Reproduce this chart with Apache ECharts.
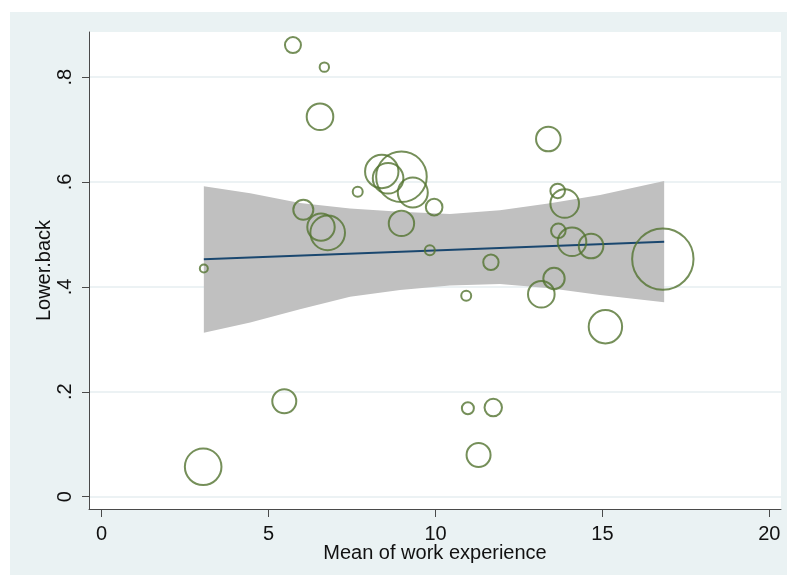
<!DOCTYPE html>
<html>
<head>
<meta charset="utf-8">
<script src="https://cdn.jsdelivr.net/npm/echarts@6/dist/echarts.min.js"></script>
<style>
  html, body { margin: 0; padding: 0; background: #ffffff; }
  #chart { width: 789px; height: 576px; }
</style>
</head>
<body>
<div id="chart"></div>
<script>
// Mean work experience (years) per study, share with lower-back complaints, study weight
const expX = [3.04, 3.06, 5.47, 5.73, 6.04, 6.54, 6.57, 6.67, 6.77, 7.67, 8.39, 8.58, 8.98, 8.98, 9.32, 9.83,
              9.96, 10.92, 10.97, 11.29, 11.66, 11.73, 13.17, 13.38, 13.55, 13.66, 13.68, 13.87, 14.09, 14.66, 15.09, 16.81];
const lowerBack = [0.057, 0.435, 0.182, 0.861, 0.547, 0.7245, 0.514, 0.819, 0.503, 0.5815, 0.620, 0.607, 0.610, 0.521, 0.580, 0.470,
                   0.552, 0.383, 0.1685, 0.0795, 0.447, 0.170, 0.386, 0.682, 0.416, 0.583, 0.507, 0.559, 0.486, 0.478, 0.324, 0.453];
const weight = [335, 16, 144, 64, 100, 177, 188, 22, 300, 25, 279, 234, 640, 161, 225, 25,
                69, 25, 36, 144, 59, 76, 177, 151, 114, 53, 53, 204, 204, 151, 279, 942];

// Linear fit and its 95% confidence band
const fitX = [3.06, 16.85];
const fitY = [0.4526, 0.486];
const ciX = [3.06, 4.45, 5.94, 7.44, 8.94, 10.43, 11.93, 13.43, 14.93, 16.85];
const ciUpper = [0.592, 0.5785, 0.560, 0.5497, 0.5434, 0.539, 0.5459, 0.5594, 0.575, 0.602];
const ciLower = [0.3127, 0.3319, 0.3575, 0.3813, 0.394, 0.4027, 0.4055, 0.3973, 0.3846, 0.3706];

// Axis ticks and labels
const xTicks = [0, 5, 10, 15, 20];
const xTickLabels = ['0', '5', '10', '15', '20'];
const yTicks = [0, 0.2, 0.4, 0.6, 0.8];
const yTickLabels = ['0', '.2', '.4', '.6', '.8'];

const FONT = '"Liberation Sans", Arial, Helvetica, sans-serif';
const AXIS_COLOR = '#4a4a4a';
const TEXT_COLOR = '#111111';

function labelFor(ticks, labels) {
  return function (v) {
    for (let i = 0; i < ticks.length; i++) {
      if (Math.abs(ticks[i] - v) < 1e-9) return labels[i];
    }
    return '';
  };
}

const chart = echarts.init(document.getElementById('chart'), null, { renderer: 'canvas' });

const option = {
  animation: false,
  backgroundColor: '#ffffff',
  graphic: [{
    type: 'rect',
    z: -100,
    silent: true,
    shape: { x: 10, y: 12, width: 777, height: 563 },
    style: { fill: '#eaf2f3' }
  }],
  grid: {
    left: 89, right: 8, top: 32, bottom: 67,
    show: true, backgroundColor: '#ffffff', borderWidth: 0
  },
  xAxis: {
    type: 'value',
    min: -0.38, max: 20.35,
    axisLine: { show: true, onZero: false, lineStyle: { color: AXIS_COLOR, width: 1 } },
    axisTick: { show: true, length: 8, customValues: xTicks, lineStyle: { color: AXIS_COLOR, width: 1 } },
    axisLabel: {
      customValues: xTicks, margin: 15, fontSize: 20, color: TEXT_COLOR, fontFamily: FONT,
      formatter: labelFor(xTicks, xTickLabels)
    },
    splitLine: { show: false },
    name: 'Mean of work experience',
    nameLocation: 'middle', nameGap: 34, nameMoveOverlap: false,
    nameTextStyle: { fontSize: 20, color: TEXT_COLOR, fontFamily: FONT }
  },
  yAxis: {
    type: 'value',
    min: -0.0235, max: 0.886,
    axisLine: { show: true, onZero: false, lineStyle: { color: AXIS_COLOR, width: 1 } },
    axisTick: { show: true, length: 7, customValues: yTicks, lineStyle: { color: AXIS_COLOR, width: 1 } },
    axisLabel: {
      customValues: yTicks, rotate: 90, margin: 14, fontSize: 20, color: TEXT_COLOR, fontFamily: FONT,
      formatter: labelFor(yTicks, yTickLabels)
    },
    splitLine: { show: true, lineStyle: { color: '#e6eef1', width: 1.5 } },
    name: 'Lower.back',
    nameLocation: 'middle', nameGap: 35, nameRotate: 90, nameMoveOverlap: false,
    nameTextStyle: { fontSize: 20, color: TEXT_COLOR, fontFamily: FONT }
  },
  series: [
    {
      name: '95% CI',
      type: 'custom',
      silent: true,
      z: 1,
      clip: true,
      data: ciX.map((x, i) => [x, ciUpper[i], ciLower[i]]),
      encode: { x: 0, y: [1, 2] },
      renderItem: function (params, api) {
        if (params.dataIndex !== 0) return null;
        const top = ciX.map((x, i) => api.coord([x, ciUpper[i]]));
        const bottom = ciX.map((x, i) => api.coord([x, ciLower[i]])).reverse();
        return {
          type: 'polygon',
          shape: { points: top.concat(bottom) },
          style: { fill: '#c0c0c0' }
        };
      }
    },
    {
      name: 'Fitted values',
      type: 'line',
      z: 2,
      silent: true,
      symbol: 'none',
      data: fitX.map((x, i) => [x, fitY[i]]),
      lineStyle: { color: '#1a476f', width: 2 }
    },
    {
      name: 'Lower.back',
      type: 'scatter',
      z: 3,
      silent: true,
      data: expX.map((x, i) => [x, lowerBack[i], weight[i]]),
      symbol: 'circle',
      symbolSize: function (v) { return 2 * Math.sqrt(v[2]); },
      itemStyle: { color: 'rgba(0,0,0,0)', borderColor: '#527330', borderWidth: 2 }
    }
  ]
};

chart.setOption(option);
</script>
</body>
</html>
